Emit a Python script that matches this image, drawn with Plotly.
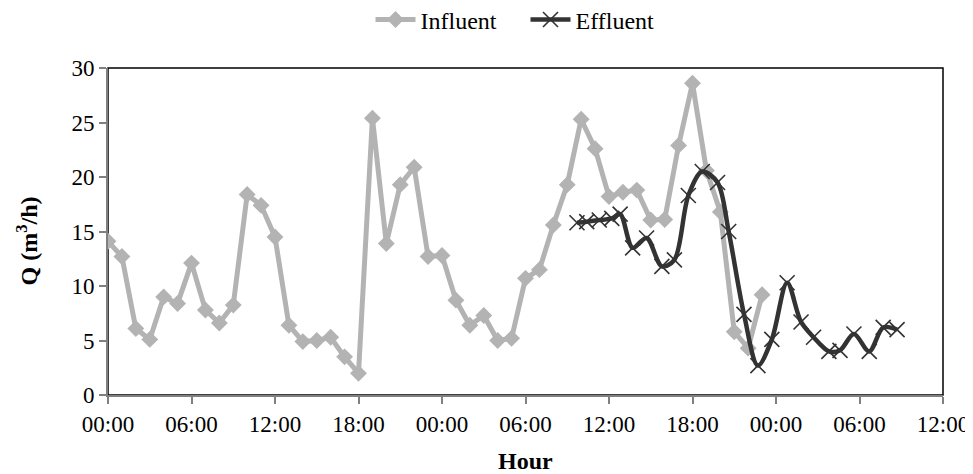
import plotly.graph_objects as go

# Influent: hourly values starting at 00:00 of day 1
influent_hours = list(range(48))
influent_q = [14.1, 12.7, 6.1, 5.1, 9.0, 8.4, 12.1, 7.8, 6.6, 8.25,
              18.4, 17.4, 14.5, 6.4, 4.9, 5.0, 5.3, 3.5, 2.0, 25.4,
              13.9, 19.3, 20.9, 12.7, 12.8, 8.7, 6.4, 7.3, 5.0, 5.2,
              10.7, 11.5, 15.6, 19.3, 25.3, 22.6, 18.2, 18.6, 18.8, 16.05,
              16.1, 22.9, 28.6, 20.6, 16.8, 5.8, 4.3, 9.2]

# Effluent: sampling times in hours from start
effluent_hours = [33.7, 34.4, 35.3, 36.2, 36.8, 37.7, 38.7, 39.8, 40.7, 41.7,
                  42.7, 43.8, 44.6, 45.7, 46.7, 47.7, 48.8, 49.8, 50.7, 51.8,
                  52.6, 53.6, 54.7, 55.7, 56.7]
effluent_q = [15.8, 15.9, 16.05, 16.2, 16.6, 13.5, 14.4, 11.8, 12.4, 18.3,
              20.5, 19.5, 15.0, 7.4, 2.7, 5.1, 10.3, 6.7, 5.3, 4.0,
              4.1, 5.6, 4.0, 6.2, 6.0]

tick_vals = [0, 6, 12, 18, 24, 30, 36, 42, 48, 54, 60]
tick_text = ["00:00", "06:00", "12:00", "18:00", "00:00", "06:00",
             "12:00", "18:00", "00:00", "06:00", "12:00"]

FONT = "Liberation Serif, Times New Roman, serif"

fig = go.Figure()
fig.add_trace(go.Scatter(
    x=influent_hours, y=influent_q, name="Influent", mode="lines+markers",
    line=dict(color="#b3b3b3", width=5),
    marker=dict(symbol="diamond", size=13, color="#b3b3b3"),
))
fig.add_trace(go.Scatter(
    x=effluent_hours, y=effluent_q, name="Effluent", mode="lines+markers",
    line=dict(color="#333333", width=4.5, shape="spline", smoothing=0.9),
    marker=dict(symbol="x-thin", size=15, color="#333333",
                line=dict(color="#333333", width=1.6)),
))

fig.add_shape(type="rect", xref="paper", yref="paper", x0=0, y0=0, x1=1, y1=1,
              line=dict(color="black", width=1.5), layer="below")

fig.add_annotation(text="<b>Hour</b>", xref="paper", yref="paper", x=0.5, y=0,
                   yshift=-66, yanchor="middle", showarrow=False,
                   font=dict(family=FONT, size=24, color="black"))
fig.add_annotation(text="<b>Q (m<sup>3</sup>/h)</b>", xref="paper", yref="paper",
                   x=0, y=0.5, xshift=-82, yshift=-10, textangle=-90,
                   xanchor="center", yanchor="middle", showarrow=False,
                   font=dict(family=FONT, size=24, color="black"))

fig.update_layout(
    width=965, height=466,
    margin=dict(l=100, r=30, t=60, b=79, autoexpand=False),
    paper_bgcolor="white", plot_bgcolor="white",
    font=dict(family=FONT, size=23, color="black"),
    showlegend=True,
    legend=dict(orientation="h", x=0.5, xanchor="center", y=1.147, yanchor="middle",
                font=dict(family=FONT, size=24), entrywidth=100, entrywidthmode="pixels",
                itemwidth=40, tracegroupgap=0),
    xaxis=dict(range=[0, 60], tickmode="array", tickvals=tick_vals, ticktext=tick_text,
               showgrid=False, zeroline=False, showline=True, linecolor="#808080",
               linewidth=2, ticks="outside", ticklen=7, tickcolor="#808080",
               tickwidth=1.5, ticklabeloverflow="allow"),
    yaxis=dict(range=[0, 30], dtick=5, showgrid=False, zeroline=False, showline=True,
               linecolor="#808080", linewidth=2, ticks="outside", ticklen=7,
               tickcolor="#808080", tickwidth=1.5),
)

fig.write_html("out.html")
